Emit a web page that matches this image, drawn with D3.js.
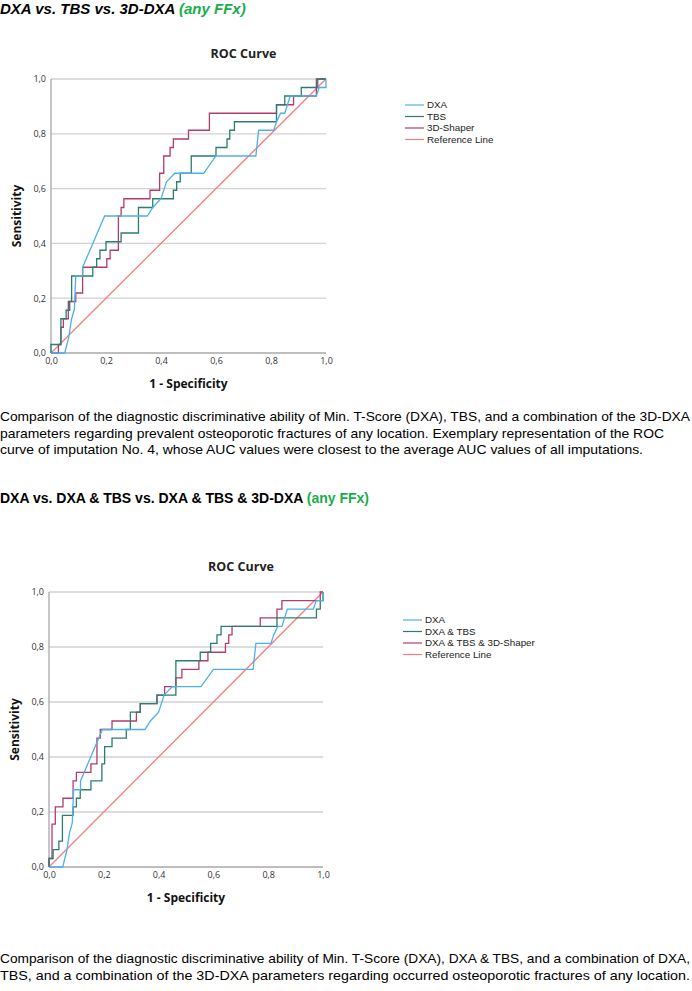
<!DOCTYPE html>
<html>
<head>
<meta charset="utf-8">
<script src="https://cdn.jsdelivr.net/npm/d3@7"></script>
<style>
  body { margin: 0; background: #fff; }
</style>
</head>
<body>
<div id="chart"></div>
<script>
//********** DATA **********
var tickValues = [0, 0.2, 0.4, 0.6, 0.8, 1.0];
var gridValues = [0.2, 0.4, 0.6, 0.8, 1.0];

// ROC vertices [1 - specificity, sensitivity]
var dxa = [[0,0],[0.05,0],[0.065,0.06],[0.075,0.125],[0.085,0.16],[0.09,0.281],[0.115,0.281],[0.115,0.313],
  [0.195,0.5],[0.35,0.5],[0.37,0.531],[0.4,0.563],[0.42,0.625],[0.45,0.656],[0.555,0.656],[0.6,0.719],
  [0.745,0.719],[0.755,0.813],[0.81,0.813],[0.82,0.844],[0.835,0.875],[0.85,0.875],[0.87,0.938],
  [0.965,0.938],[0.975,0.969],[1,0.969],[1,1]];

var tbs = [[0,0],[0,0.031],[0.036,0.031],[0.036,0.125],[0.055,0.125],[0.055,0.156],[0.068,0.156],[0.068,0.188],
  [0.075,0.188],[0.075,0.281],[0.152,0.281],[0.152,0.313],[0.166,0.313],[0.166,0.344],[0.178,0.344],[0.178,0.375],
  [0.2,0.375],[0.2,0.406],[0.255,0.406],[0.255,0.438],[0.318,0.438],[0.318,0.531],[0.37,0.531],[0.37,0.563],
  [0.445,0.563],[0.445,0.594],[0.457,0.594],[0.457,0.625],[0.47,0.625],[0.47,0.656],[0.51,0.656],[0.51,0.719],
  [0.6,0.719],[0.6,0.75],[0.64,0.75],[0.64,0.781],[0.65,0.781],[0.65,0.813],[0.667,0.813],[0.667,0.844],
  [0.82,0.844],[0.82,0.906],[0.85,0.906],[0.85,0.938],[0.91,0.938],[0.91,0.969],[0.97,0.969],[0.97,1],[1,1]];

var shaper = [[0,0],[0.027,0],[0.027,0.031],[0.036,0.031],[0.036,0.094],[0.045,0.094],[0.045,0.125],[0.063,0.125],
  [0.063,0.188],[0.09,0.188],[0.09,0.219],[0.115,0.219],[0.115,0.313],[0.203,0.313],[0.203,0.344],[0.215,0.344],
  [0.215,0.375],[0.245,0.375],[0.245,0.5],[0.255,0.5],[0.255,0.531],[0.265,0.531],[0.265,0.563],[0.36,0.563],
  [0.36,0.594],[0.395,0.594],[0.395,0.656],[0.41,0.656],[0.41,0.719],[0.433,0.719],[0.433,0.75],[0.445,0.75],
  [0.445,0.781],[0.5,0.781],[0.5,0.813],[0.576,0.813],[0.576,0.875],[0.82,0.875],[0.82,0.906],[0.882,0.906],
  [0.882,0.938],[0.965,0.938],[0.965,1],[1,1]];

var dxaTbs = [[0,0],[0,0.031],[0.015,0.031],[0.015,0.063],[0.036,0.063],[0.036,0.094],[0.049,0.094],[0.049,0.188],
  [0.088,0.188],[0.088,0.219],[0.1,0.219],[0.1,0.25],[0.114,0.25],[0.114,0.281],[0.153,0.281],[0.153,0.313],
  [0.193,0.313],[0.193,0.375],[0.203,0.375],[0.203,0.438],[0.23,0.438],[0.23,0.469],[0.282,0.469],[0.282,0.5],
  [0.297,0.5],[0.297,0.563],[0.333,0.563],[0.333,0.594],[0.394,0.594],[0.394,0.625],[0.463,0.625],[0.463,0.75],
  [0.552,0.75],[0.552,0.781],[0.59,0.781],[0.59,0.813],[0.613,0.813],[0.613,0.844],[0.628,0.844],[0.628,0.875],
  [0.832,0.875],[0.832,0.906],[0.976,0.906],[0.976,0.938],[0.99,0.938],[0.99,0.969],[1,0.969],[1,1]];

var dxaTbsShaper = [[0,0],[0,0.031],[0.011,0.031],[0.011,0.156],[0.023,0.156],[0.023,0.219],[0.051,0.219],[0.051,0.25],
  [0.088,0.25],[0.088,0.313],[0.1,0.313],[0.1,0.344],[0.153,0.344],[0.153,0.375],[0.175,0.375],[0.175,0.469],
  [0.187,0.469],[0.187,0.5],[0.23,0.5],[0.23,0.531],[0.319,0.531],[0.319,0.563],[0.333,0.563],[0.333,0.594],
  [0.394,0.594],[0.394,0.625],[0.422,0.625],[0.422,0.656],[0.463,0.656],[0.463,0.688],[0.485,0.688],[0.485,0.719],
  [0.547,0.719],[0.547,0.75],[0.58,0.75],[0.58,0.781],[0.644,0.781],[0.644,0.813],[0.656,0.813],[0.656,0.844],
  [0.668,0.844],[0.668,0.875],[0.771,0.875],[0.771,0.906],[0.832,0.906],[0.832,0.938],[0.85,0.938],[0.85,0.969],
  [0.99,0.969],[0.99,1],[1,1]];

var reference = [[0,0],[1,1]];

var legend1 = ["DXA", "TBS", "3D-Shaper", "Reference Line"];
var legend2 = ["DXA", "DXA & TBS", "DXA & TBS & 3D-Shaper", "Reference Line"];

var colors = ["#4db0e6", "#2a7d70", "#b53a6e", "#f47f7f"];

var caption1 = [
  "Comparison of the diagnostic discriminative ability of Min. T-Score (DXA), TBS, and a combination of the 3D-DXA",
  "parameters regarding prevalent osteoporotic fractures of any location. Exemplary representation of the ROC",
  "curve of imputation No. 4, whose AUC values were closest to the average AUC values of all imputations."
];
var caption2 = [
  "Comparison of the diagnostic discriminative ability of Min. T-Score (DXA), DXA & TBS, and a combination of DXA,",
  "TBS, and a combination of the 3D-DXA parameters regarding occurred osteoporotic fractures of any location."
];

//********** PAGE **********
var svg = d3.select("#chart").append("svg")
  .attr("width", 692)
  .attr("height", 991);

var SANS = "'Liberation Sans', Arial, sans-serif";
var SPSS = "'Open Sans', 'DejaVu Sans', sans-serif";

function heading(y, size, main, green, italic){
  var t = svg.append("text")
    .attr("x", 0).attr("y", y)
    .style("font-family", SANS)
    .style("font-size", size + "px").style("font-weight", "bold")
    .style("font-style", italic ? "italic" : "normal")
    .attr("fill", "#000");
  t.append("tspan").text(main);
  t.append("tspan").attr("fill", "#1aad4b").text(green);
}

function caption(y, lines, widths){
  for(var i = 0; i < lines.length; ++i){
    svg.append("text")
      .attr("x", 0).attr("y", y + i*16.5)
      .style("font-family", SANS).style("font-size", "13px")
      .attr("textLength", widths[i])
      .attr("lengthAdjust", "spacingAndGlyphs")
      .attr("fill", "#000")
      .text(lines[i]);
  }
}

function rocChart(opt){
  var x = d3.scaleLinear().domain([0, 1]).range([opt.left, opt.right]);
  var y = d3.scaleLinear().domain([0, 1]).range([opt.bottom, opt.top]);
  var g = svg.append("g");

  //title
  g.append("text")
    .attr("x", (opt.left + opt.right)/2 + 55).attr("y", opt.top - 21)
    .attr("text-anchor", "middle")
    .style("font-family", SPSS).style("font-weight", "bold").style("font-size", "12.5px")
    .attr("fill", "#222")
    .text("ROC Curve");

  //grid
  g.selectAll(".grid").data(gridValues).enter().append("line")
    .attr("x1", opt.left).attr("x2", opt.right)
    .attr("y1", function(d){ return y(d); }).attr("y2", function(d){ return y(d); })
    .attr("stroke", "#d2d2d2").attr("stroke-width", 1.3);

  //axis lines
  g.append("line").attr("x1", opt.left).attr("x2", opt.left).attr("y1", opt.top).attr("y2", opt.bottom)
    .attr("stroke", "#a8a8a8").attr("stroke-width", 1.3);
  g.append("line").attr("x1", opt.left).attr("x2", opt.right).attr("y1", opt.bottom).attr("y2", opt.bottom)
    .attr("stroke", "#a8a8a8").attr("stroke-width", 1.3);

  var fmt = function(d){ return d3.format(".1f")(d).replace(".", ","); };

  var ya = g.append("g").attr("transform", "translate(" + opt.left + ",0)")
    .call(d3.axisLeft(y).tickValues(tickValues).tickSize(0).tickPadding(5).tickFormat(fmt));
  var xa = g.append("g").attr("transform", "translate(0," + opt.bottom + ")")
    .call(d3.axisBottom(x).tickValues(tickValues).tickSize(0).tickPadding(5).tickFormat(fmt));
  [ya, xa].forEach(function(a){
    a.select(".domain").remove();
    a.selectAll("text").style("font-family", SPSS).style("font-size", "9px").attr("fill", "#333");
  });

  //axis titles
  g.append("text")
    .attr("transform", "translate(" + (opt.left - 30) + "," + ((opt.top + opt.bottom)/2) + ") rotate(-90)")
    .attr("text-anchor", "middle")
    .style("font-family", SPSS).style("font-weight", "bold").style("font-size", "12px")
    .attr("fill", "#111")
    .text("Sensitivity");
  g.append("text")
    .attr("x", (opt.left + opt.right)/2).attr("y", opt.bottom + 35)
    .attr("text-anchor", "middle")
    .style("font-family", SPSS).style("font-weight", "bold").style("font-size", "12px")
    .attr("fill", "#111")
    .text("1 - Specificity");

  //curves
  var line = d3.line().x(function(d){ return x(d[0]); }).y(function(d){ return y(d[1]); });
  var series = opt.series.concat([reference]);
  for(var i = series.length - 1; i >= 0; --i){
    g.append("path")
      .datum(series[i])
      .attr("d", line)
      .attr("fill", "none")
      .attr("stroke", colors[i])
      .attr("stroke-width", 1.3);
  }

  //legend
  for(var j = 0; j < opt.legend.length; ++j){
    var ly = opt.legendY + j*11.5;
    g.append("line")
      .attr("x1", opt.legendX).attr("x2", opt.legendX + 19)
      .attr("y1", ly).attr("y2", ly)
      .attr("stroke", colors[j]).attr("stroke-width", 1.2);
    g.append("text")
      .attr("x", opt.legendX + 22).attr("y", ly).attr("dy", "0.35em")
      .style("font-family", SANS).style("font-size", "9.8px").attr("fill", "#222")
      .text(opt.legend[j]);
  }
}

heading(14, 15, "DXA vs. TBS vs. 3D-DXA ", "(any FFx)", true);

rocChart({left: 51, right: 326, top: 79, bottom: 353,
  series: [dxa, tbs, shaper], legend: legend1, legendX: 405, legendY: 105});

caption(421, caption1, [690, 664, 643]);

heading(503, 14, "DXA vs. DXA & TBS vs. DXA & TBS & 3D-DXA ", "(any FFx)", false);

rocChart({left: 49, right: 323, top: 592, bottom: 867,
  series: [dxa, dxaTbs, dxaTbsShaper], legend: legend2, legendX: 403, legendY: 620});

caption(963, caption2, [690, 690]);
</script>
</body>
</html>
